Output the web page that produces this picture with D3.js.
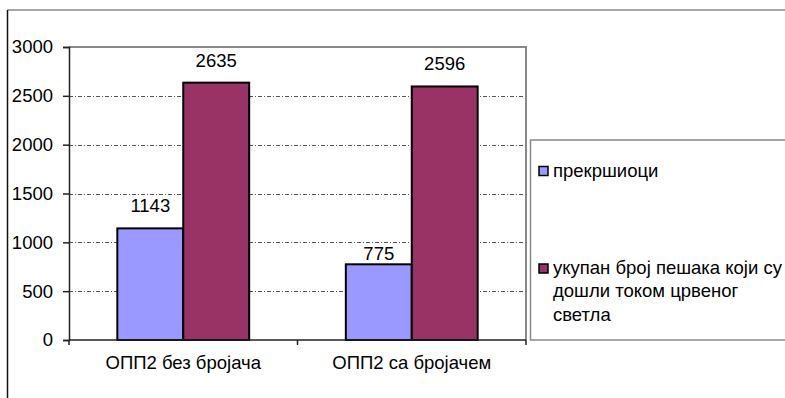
<!DOCTYPE html>
<html>
<head>
<meta charset="utf-8">
<script src="https://cdn.jsdelivr.net/npm/d3@7"></script>
<style>
  html, body { margin: 0; padding: 0; background: #fff; }
  svg { display: block; font-family: "Liberation Sans", Arial, sans-serif; }
</style>
</head>
<body>
<svg id="chart" width="785" height="398"></svg>
<script>
// Categories and series values
const categories = ["ОПП2 без бројача", "ОПП2 са бројачем"];
const seriesNames = ["прекршиоци", "укупан број пешака који су дошли током црвеног светла"];
const seriesLegendLines = [["прекршиоци"], ["укупан број пешака који су", "дошли током црвеног", "светла"]];
const violators = [1143, 775];
const totalOnRed = [2635, 2596];
const yTicks = [0, 500, 1000, 1500, 2000, 2500, 3000];
const seriesColors = ["#9999FF", "#993366"];

const series = [violators, totalOnRed];

const svg = d3.select("#chart");
const W = 785, H = 398;
const FS = 18.5;
const plot = { left: 69, right: 526, top: 47, bottom: 340 };

// Outer chart frame
svg.append("line").attr("x1", 7.5).attr("x2", W).attr("y1", 10).attr("y2", 10)
  .attr("stroke", "#888").attr("stroke-width", 1.5);
svg.append("line").attr("x1", 7.5).attr("x2", 7.5).attr("y1", 10).attr("y2", H)
  .attr("stroke", "#111").attr("stroke-width", 1.5);

const y = d3.scaleLinear().domain([0, 3000]).range([plot.bottom, plot.top]);
const x0 = d3.scaleBand().domain(categories).range([plot.left, plot.right])
  .paddingInner(0.423).paddingOuter(0.2115);
const x1 = d3.scaleBand().domain(d3.range(series.length)).range([0, x0.bandwidth()]);

// Gridlines
svg.append("g").selectAll("line")
  .data(yTicks.filter(t => t > 0 && t < 3000))
  .join("line")
  .attr("x1", plot.left).attr("x2", plot.right)
  .attr("y1", d => Math.round(y(d)) + 0.5).attr("y2", d => Math.round(y(d)) + 0.5)
  .attr("stroke", "#555").attr("stroke-width", 1)
  .attr("stroke-dasharray", "4,2,1,2");

// Plot area frame (top and right edges)
svg.append("path")
  .attr("d", `M${plot.left},${plot.top}H${plot.right}V${plot.bottom}`)
  .attr("fill", "none").attr("stroke", "#888").attr("stroke-width", 2);

// Bars
const groups = svg.append("g").selectAll("g")
  .data(categories)
  .join("g")
  .attr("transform", c => `translate(${x0(c)},0)`);

groups.selectAll("rect")
  .data((c, i) => series.map((s, k) => ({ k, v: s[i], i })))
  .join("rect")
  .attr("x", d => x1(d.k))
  .attr("y", d => y(d.v))
  .attr("width", x1.bandwidth())
  .attr("height", d => y(0) - y(d.v))
  .attr("fill", d => seriesColors[d.k])
  .attr("stroke", "#000").attr("stroke-width", 2);

// Value labels above bars
const labelLift = d => (d.k === 0 && d.i === 1 ? 4 : 16);
groups.selectAll("text")
  .data((c, i) => series.map((s, k) => ({ k, v: s[i], i })))
  .join("text")
  .attr("x", d => x1(d.k) + x1.bandwidth() / 2)
  .attr("y", d => y(d.v) - labelLift(d))
  .attr("text-anchor", "middle")
  .attr("font-size", FS)
  .attr("fill", "#000")
  .text(d => d.v);

// Y axis
const yAxis = d3.axisLeft(y).tickValues(yTicks).tickSize(6).tickPadding(10).tickFormat(d3.format("d"));
const gy = svg.append("g").attr("transform", `translate(${plot.left},0)`).call(yAxis);
gy.select(".domain").attr("stroke", "#222").attr("stroke-width", 1.5);
gy.selectAll(".tick line").attr("stroke", "#222").attr("stroke-width", 1.5);
gy.selectAll(".tick text").attr("font-size", FS).attr("font-family", "Liberation Sans, Arial, sans-serif").attr("fill", "#000");

// X axis with ticks at category boundaries
const gx = svg.append("g");
gx.append("line").attr("x1", plot.left).attr("x2", plot.right)
  .attr("y1", plot.bottom).attr("y2", plot.bottom)
  .attr("stroke", "#222").attr("stroke-width", 1.5);
const step = x0.step();
const bounds = [0, 1, 2].map(i => plot.left + i * step);
gx.selectAll("line.tk").data(bounds).join("line").attr("class", "tk")
  .attr("x1", d => d).attr("x2", d => d)
  .attr("y1", plot.bottom).attr("y2", plot.bottom + 5)
  .attr("stroke", "#222").attr("stroke-width", 1.5);
gx.selectAll("text").data(categories).join("text")
  .attr("x", c => x0(c) + x0.bandwidth() / 2)
  .attr("y", 369)
  .attr("text-anchor", "middle")
  .attr("font-size", FS)
  .attr("fill", "#000")
  .text(c => c);

// Legend
const legend = svg.append("g");
legend.append("rect").attr("x", 530.5).attr("y", 140).attr("width", 300).attr("height", 200)
  .attr("fill", "#fff").attr("stroke", "#888").attr("stroke-width", 1.5);
const legendY = [176.5, 274];
seriesNames.forEach((name, k) => {
  const g = legend.append("g");
  g.append("rect").attr("x", 539).attr("y", legendY[k] - 10).attr("width", 9).attr("height", 9)
    .attr("fill", seriesColors[k]).attr("stroke", "#000").attr("stroke-width", 1.5);
  const t = g.append("text").attr("x", 553).attr("y", legendY[k])
    .attr("font-size", FS).attr("fill", "#000");
  seriesLegendLines[k].forEach((line, j) => {
    t.append("tspan").attr("x", 553).attr("dy", j === 0 ? 0 : 23.3).text(line);
  });
});
</script>
</body>
</html>
